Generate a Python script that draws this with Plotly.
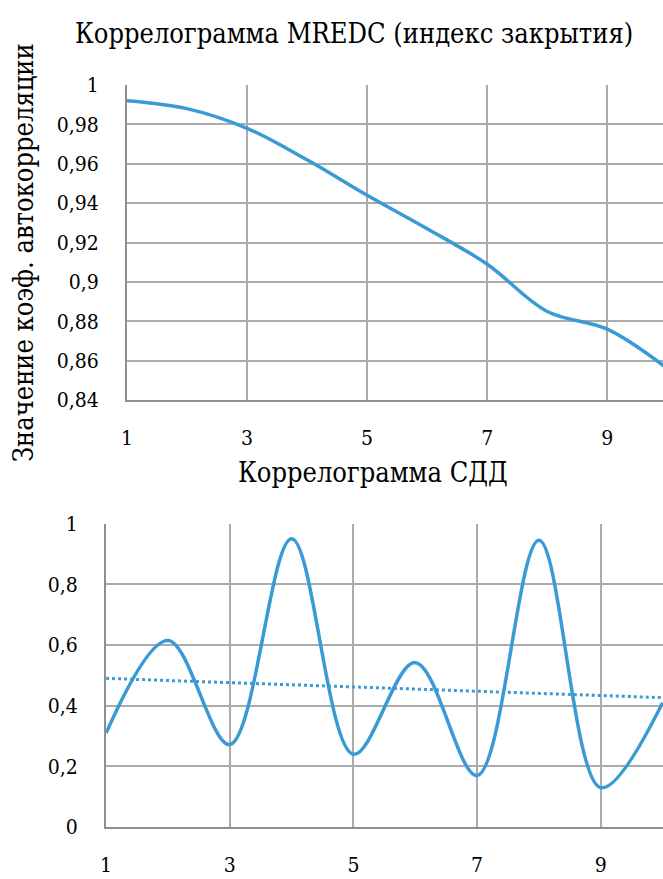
import numpy as np
import plotly.graph_objects as go

W, H = 663, 879

# ---- data ----
lags = [1, 2, 3, 4, 5, 6, 7, 8, 9, 10]
mredc_acf = [0.992, 0.988, 0.978, 0.962, 0.944, 0.927, 0.909, 0.885, 0.876, 0.856]
sdd_acf = [0.31, 0.615, 0.272, 0.95, 0.24, 0.542, 0.17, 0.945, 0.13, 0.41]

title_top = "Коррелограмма MREDC (индекс закрытия)"
title_bottom = "Коррелограмма СДД"
y_title = "Значение коэф. автокорреляции"

top_yticks = [0.84, 0.86, 0.88, 0.90, 0.92, 0.94, 0.96, 0.98, 1.0]
top_yticklabels = ["0,84", "0,86", "0,88", "0,9", "0,92", "0,94", "0,96", "0,98", "1"]
bot_yticks = [0, 0.2, 0.4, 0.6, 0.8, 1.0]
bot_yticklabels = ["0", "0,2", "0,4", "0,6", "0,8", "1"]
xticks = [1, 3, 5, 7, 9]

# linear trend of the SDD correlogram
coef = np.polyfit(lags, sdd_acf, 1)
trend = list(np.polyval(coef, lags))

LINE = "#3a9ad6"
GRID = "#ababab"
AXIS = "#8e8e8e"
FONT = "DejaVu Serif Condensed"


def px_x(p):
    return p / W


def px_y(p):
    return 1 - p / H


fig = go.Figure()
fig.add_trace(go.Scatter(x=lags, y=mredc_acf, mode="lines",
                         line=dict(color=LINE, width=3.5, shape="spline", smoothing=1),
                         xaxis="x", yaxis="y", showlegend=False))
fig.add_trace(go.Scatter(x=lags, y=sdd_acf, mode="lines",
                         line=dict(color=LINE, width=3.5, shape="spline", smoothing=1),
                         xaxis="x2", yaxis="y2", showlegend=False))
fig.add_trace(go.Scatter(x=lags, y=trend, mode="lines",
                         line=dict(color=LINE, width=3, dash="dot"),
                         xaxis="x2", yaxis="y2", showlegend=False))

common_x = dict(tickmode="array", tickvals=xticks, ticktext=[str(v) for v in xticks],
                showgrid=True, gridcolor=GRID, gridwidth=2,
                showline=True, linecolor=AXIS, linewidth=2,
                zeroline=False, ticks="", ticklabelstandoff=18,
                tickfont=dict(family=FONT, size=21, color="black"))
common_y = dict(tickmode="array", showgrid=True, gridcolor=GRID, gridwidth=2,
                showline=True, linecolor=AXIS, linewidth=2,
                zeroline=False, ticks="", ticklabelstandoff=22,
                tickfont=dict(family=FONT, size=21, color="black"))

fig.update_layout(
    width=W, height=H,
    margin=dict(l=0, r=0, t=0, b=0),
    paper_bgcolor="white", plot_bgcolor="white",
    font=dict(family=FONT),
    xaxis=dict(domain=[px_x(122), 1.0], range=[1, 1 + (663 - 122) / 60.6],
               anchor="y", **common_x),
    yaxis=dict(domain=[px_y(399), px_y(75)], range=[0.84, 1.0], anchor="x",
               tickvals=top_yticks, ticktext=top_yticklabels, **common_y),
    xaxis2=dict(domain=[px_x(101), 1.0], range=[1, 1 + (663 - 101) / 62.4],
                anchor="y2", **common_x),
    yaxis2=dict(domain=[px_y(838), px_y(526)], range=[0, 1.0], anchor="x2",
                tickvals=bot_yticks, ticktext=bot_yticklabels, **common_y),
    annotations=[
        dict(text=title_top, x=px_x(351), y=px_y(22), xref="paper", yref="paper",
             showarrow=False, xanchor="center", yanchor="middle",
             font=dict(family=FONT, size=27, color="black")),
        dict(text=title_bottom, x=px_x(370), y=px_y(473), xref="paper", yref="paper",
             showarrow=False, xanchor="center", yanchor="middle",
             font=dict(family=FONT, size=27, color="black")),
        dict(text=y_title, x=px_x(17), y=px_y(247), xref="paper", yref="paper",
             showarrow=False, xanchor="center", yanchor="middle", textangle=-90,
             font=dict(family=FONT, size=27, color="black")),
    ],
)

fig.write_html("out.html")
